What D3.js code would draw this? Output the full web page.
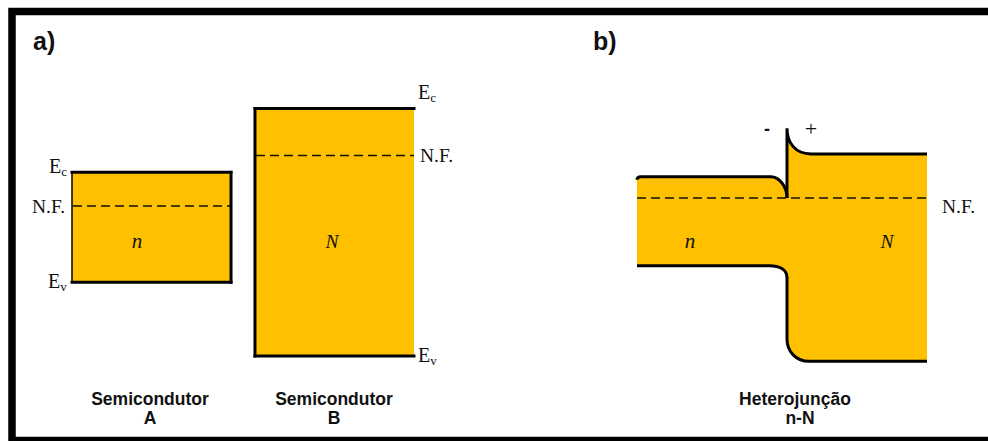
<!DOCTYPE html>
<html>
<head>
<meta charset="utf-8">
<script src="https://cdn.jsdelivr.net/npm/d3@7/dist/d3.min.js"></script>
<style>
  body { margin: 0; background: #fff; }
  svg { display: block; }
  .lbl { font-family: "Liberation Serif", "Times New Roman", serif; fill: #111; }
  .cap { font-family: "Liberation Sans", Arial, sans-serif; font-weight: bold; fill: #111; }
</style>
</head>
<body>
<svg id="svg"></svg>
<script>
// ---- data (energies in eV) ----
const semis = ['A', 'B']
const semiType = ['n', 'N']
const ecLevels = [3.71, 5.0]
const efLevels = [3.03, 4.05]
const evLevels = [1.49, 0.0]

// heterojunction n-N, energies relative to the Fermi level
const hjSides = ['n', 'N']
const hjEc = [0.43, 0.89]
const hjEv = [-1.37, -3.30]
const hjSpike = 1.41      // top of the conduction band spike at the interface
const hjNotch = 0.0       // n-side conduction band at the interface
const hjExtent = [-150, 140]  // position, left edge / right edge (junction at 0)
const hjDepletion = [-16, 24] // bending region on each side

const captions = [['Semicondutor', 'A'], ['Semicondutor', 'B'], ['Heterojunção', 'n-N']]

// ---- setup ----
const width = 988, height = 441
const fillC = '#FFC000'
const svg = d3.select('#svg').attr('width', width).attr('height', height)

// frame (right side runs off the picture)
svg.append('rect')
  .attr('x', 12).attr('y', 11.5).attr('width', 1100).attr('height', 429)
  .attr('fill', 'none').attr('stroke', '#000').attr('stroke-width', 7.5)

svg.append('text').attr('class', 'cap').attr('x', 33).attr('y', 50).attr('font-size', 25).text('a)')
svg.append('text').attr('class', 'cap').attr('x', 593).attr('y', 50).attr('font-size', 25).text('b)')

// ---- panel a ----
let xA = d3.scaleBand().domain(semis).range([72, 414]).paddingInner(0.131).paddingOuter(0)
let yA = d3.scaleLinear().domain([0, 5]).range([356, 108.5])

let gA = svg.append('g')
semis.forEach((s, i) => {
  let x0 = xA(s), x1 = x0 + xA.bandwidth()
  let yc = yA(ecLevels[i]), yv = yA(evLevels[i]), yf = yA(efLevels[i])
  gA.append('rect').attr('x', x0).attr('y', yc).attr('width', x1 - x0).attr('height', yv - yc).attr('fill', fillC)
  gA.append('line').attr('x1', x0 + 1).attr('x2', x1).attr('y1', yf).attr('y2', yf)
    .attr('stroke', '#111').attr('stroke-width', 1.5).attr('stroke-dasharray', '9,5')
  let ln = (a, b, c, d, w) => gA.append('line').attr('x1', a).attr('y1', b).attr('x2', c).attr('y2', d)
    .attr('stroke', '#000').attr('stroke-width', w).attr('stroke-linecap', 'square')
  ln(x0, yc, x1, yc, 3)
  ln(x0, yv, x1, yv, 3)
  if (i === 0) { ln(x0, yc, x0, yv, 1.5); ln(x1, yc, x1, yv, 3) }
  else { ln(x0, yc, x0, yv, 3) }

  // level labels
  let sub = (x, y, main, s2) => {
    let t = gA.append('text').attr('class', 'lbl').attr('x', x).attr('y', y).attr('font-size', 20)
    t.append('tspan').text(main)
    if (s2) t.append('tspan').attr('font-size', 13).attr('dy', 3).text(s2)
  }
  if (i === 0) {
    sub(49, yc + 1, 'E', 'c')
    gA.append('text').attr('class', 'lbl').attr('x', 32).attr('y', yf + 6.5).attr('font-size', 19.5).text('N.F.')
    sub(48, yv + 6, 'E', 'v')
    gA.append('text').attr('class', 'lbl').attr('x', x0 + 65).attr('y', 248).attr('font-size', 21)
      .attr('font-style', 'italic').attr('text-anchor', 'middle').text(semiType[i])
  } else {
    sub(x1 + 4, yc - 10, 'E', 'c')
    gA.append('text').attr('class', 'lbl').attr('x', x1 + 6).attr('y', yf + 6.3).attr('font-size', 19.5).text('N.F.')
    sub(x1 + 4, yv + 6, 'E', 'v')
    gA.append('text').attr('class', 'lbl').attr('x', x0 + 77).attr('y', 248).attr('font-size', 19.5)
      .attr('font-style', 'italic').attr('text-anchor', 'middle').text(semiType[i])
  }
})

// ---- panel b ----
let xB = d3.scaleLinear().domain(hjExtent).range([637, 927])
let yB = d3.scaleLinear().domain([-4, 1.5]).range([396, 123.75])

let L = xB(hjExtent[0]), R = xB(hjExtent[1]), J = xB(0)
let dL = xB(hjDepletion[0]), dR = xB(hjDepletion[1])
let nEc = yB(hjEc[0]), NEc = yB(hjEc[1]), nEv = yB(hjEv[0]), NEv = yB(hjEv[1])
let sp = yB(hjSpike), nt = yB(hjNotch)
let evStep = nEv + 12, rc = 22

// fill outline
let p = d3.path()
p.moveTo(L, nEc + 3)
p.quadraticCurveTo(L, nEc, L + 4, nEc)
p.lineTo(dL, nEc)
p.bezierCurveTo(dL + 8, nEc, J, nEc + (nt - nEc) * 0.45, J, nt)
p.lineTo(J, sp)
p.bezierCurveTo(J, sp + (NEc - sp) * 0.55, J + 8, NEc, dR, NEc)
p.lineTo(R, NEc)
p.lineTo(R, NEv)
p.lineTo(J + rc, NEv)
p.bezierCurveTo(J + 9, NEv, J, NEv - 10, J, NEv - rc)
p.lineTo(J, evStep)
p.bezierCurveTo(J, nEv + 4, dL + 9, nEv, dL - 2, nEv)
p.lineTo(L, nEv)
p.closePath()
svg.append('path').attr('d', p.toString()).attr('fill', fillC)

let stroke = d => svg.append('path').attr('d', d).attr('fill', 'none')
  .attr('stroke', '#000').attr('stroke-width', 3)

// conduction band, n side
let c1 = d3.path()
c1.moveTo(L, nEc + 3)
c1.quadraticCurveTo(L, nEc, L + 4, nEc)
c1.lineTo(dL, nEc)
c1.bezierCurveTo(dL + 8, nEc, J, nEc + (nt - nEc) * 0.45, J, nt)
stroke(c1.toString())
// interface + spike + N side
let c2 = d3.path()
c2.moveTo(J, nt)
c2.lineTo(J, sp)
c2.bezierCurveTo(J, sp + (NEc - sp) * 0.55, J + 8, NEc, dR, NEc)
c2.lineTo(R, NEc)
stroke(c2.toString())
// valence band
let v1 = d3.path()
v1.moveTo(L, nEv)
v1.lineTo(dL - 2, nEv)
v1.bezierCurveTo(dL + 9, nEv, J, nEv + 4, J, evStep)
v1.lineTo(J, NEv - rc)
v1.bezierCurveTo(J, NEv - 10, J + 9, NEv, J + rc, NEv)
v1.lineTo(R, NEv)
stroke(v1.toString())

// Fermi level
svg.append('line').attr('x1', L).attr('x2', R).attr('y1', yB(0)).attr('y2', yB(0))
  .attr('stroke', '#111').attr('stroke-width', 1.5).attr('stroke-dasharray', '9,5')
svg.append('text').attr('class', 'lbl').attr('x', R + 15).attr('y', yB(0) + 14.5).attr('font-size', 19.5).text('N.F.')

// side labels
svg.append('text').attr('class', 'lbl').attr('x', 690).attr('y', 248).attr('font-size', 21)
  .attr('font-style', 'italic').attr('text-anchor', 'middle').text(hjSides[0])
svg.append('text').attr('class', 'lbl').attr('x', 887).attr('y', 248).attr('font-size', 19.5)
  .attr('font-style', 'italic').attr('text-anchor', 'middle').text(hjSides[1])

// interface charges
svg.append('text').attr('class', 'cap').attr('x', J - 20).attr('y', 135).attr('font-size', 18)
  .attr('font-weight', 'normal').attr('text-anchor', 'middle').text('-')
svg.append('text').attr('class', 'lbl').attr('x', J + 24).attr('y', 136).attr('font-size', 22)
  .attr('text-anchor', 'middle').text('+')

// captions
let capX = [150, 334, 795]
let capX2 = [150, 334, 800]
captions.forEach((c, i) => {
  svg.append('text').attr('class', 'cap').attr('x', capX[i]).attr('y', 405).attr('font-size', 17.5)
    .attr('text-anchor', 'middle').text(c[0])
  svg.append('text').attr('class', 'cap').attr('x', capX2[i]).attr('y', 424).attr('font-size', 17.5)
    .attr('text-anchor', 'middle').text(c[1])
})
</script>
</body>
</html>
